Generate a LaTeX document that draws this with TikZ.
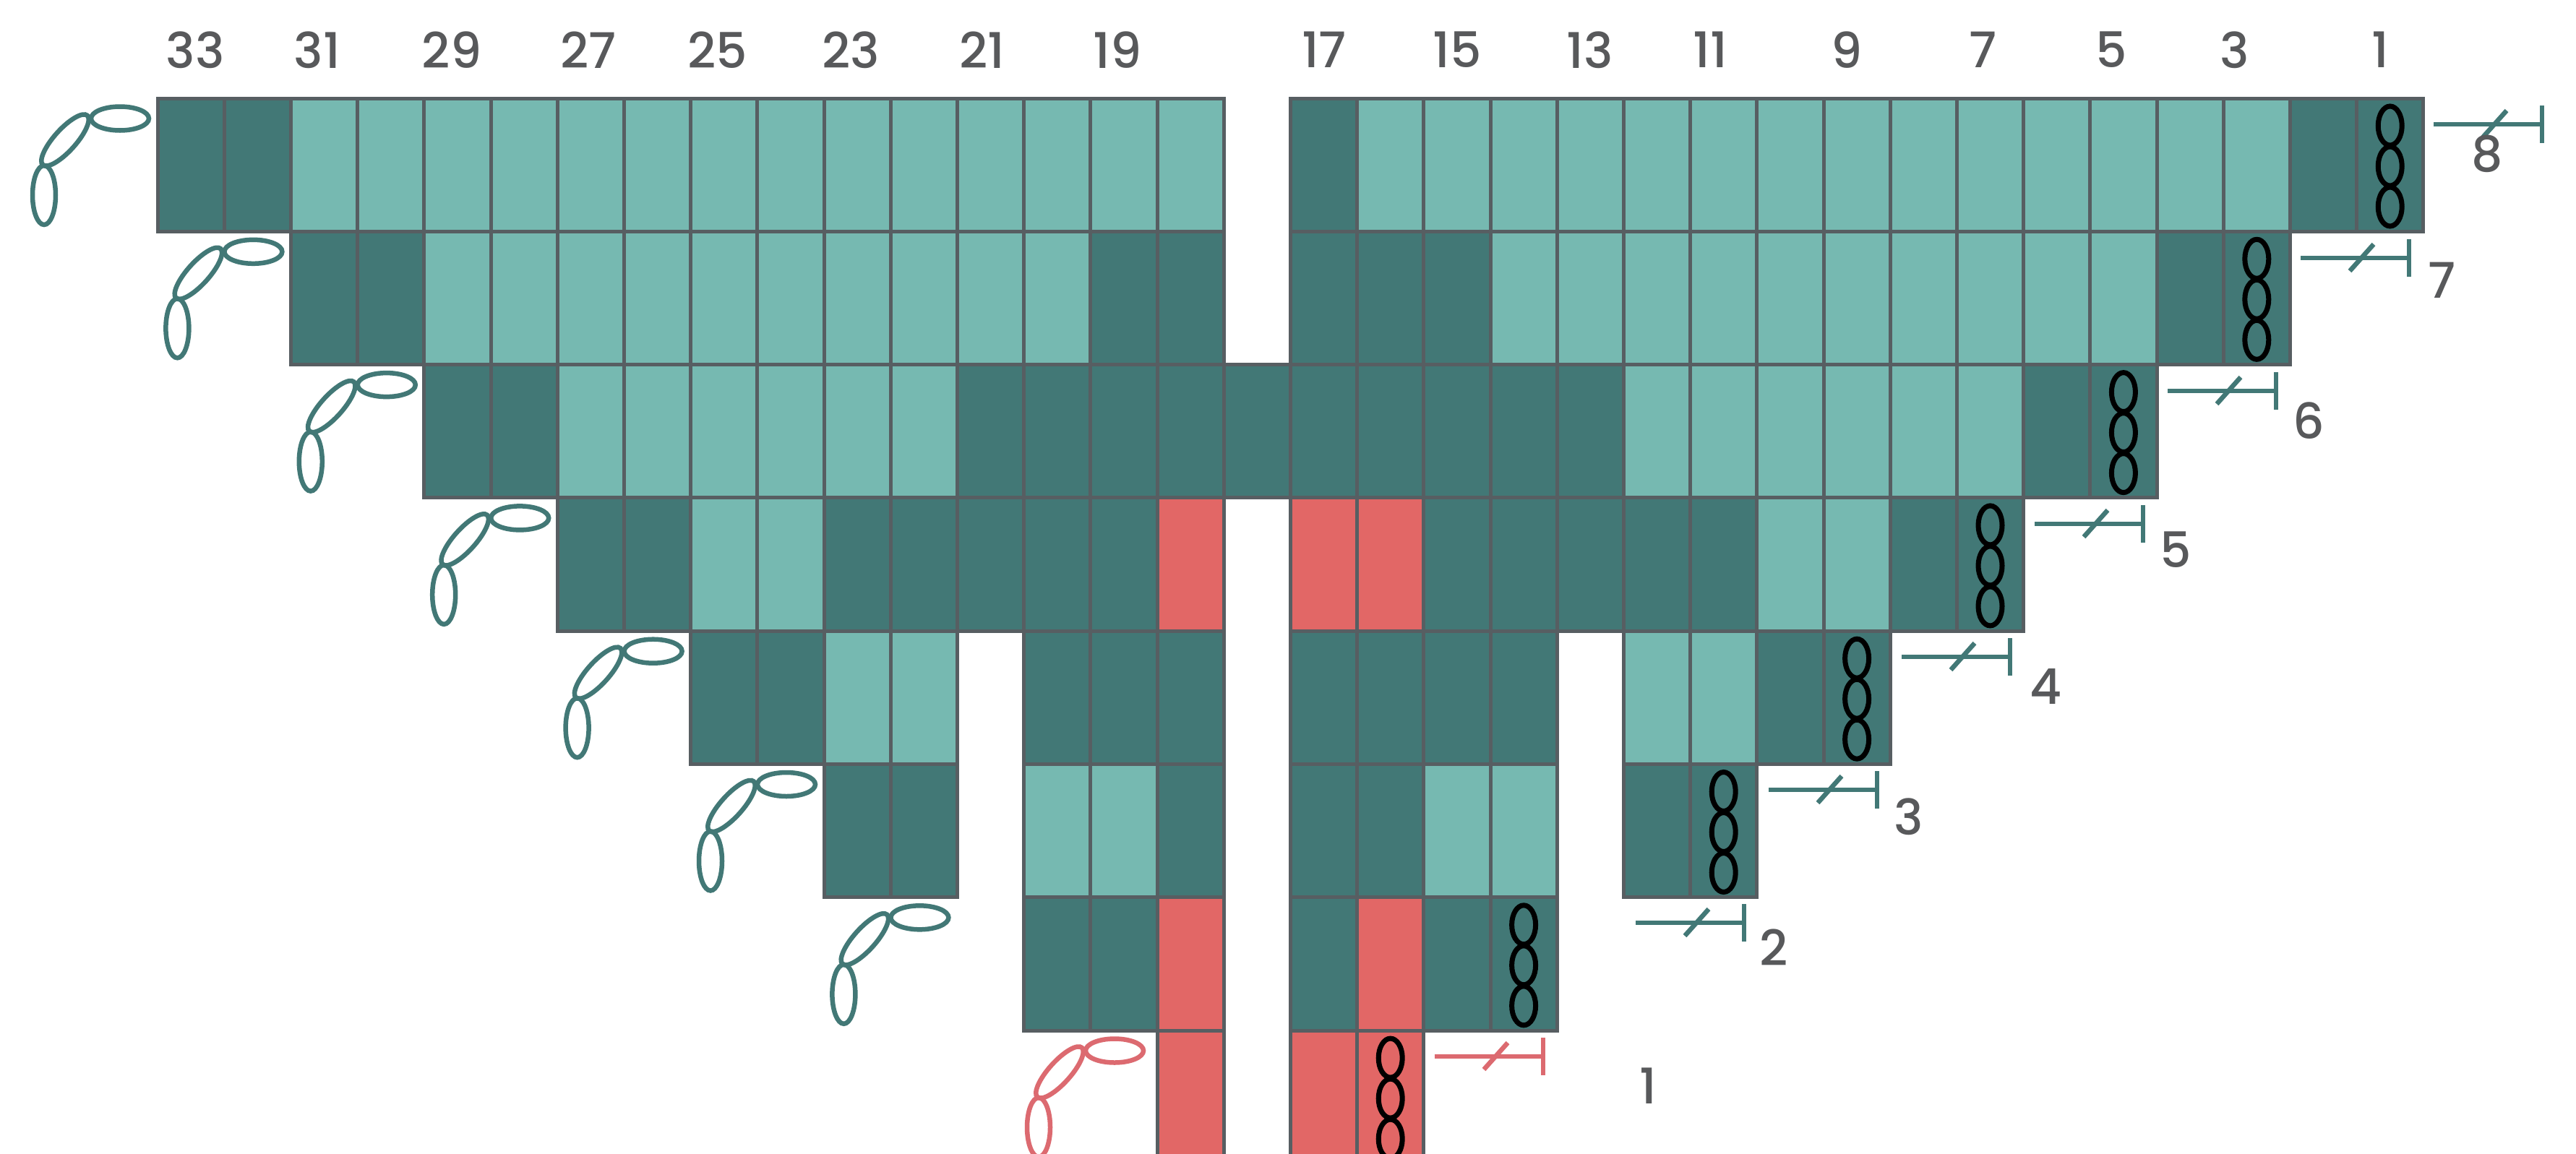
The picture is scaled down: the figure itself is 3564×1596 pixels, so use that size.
\documentclass[tikz,border=0pt]{standalone}
\usepackage{fontspec}
\setmainfont{Poppins Medium}
\definecolor{darkteal}{HTML}{427876}
\definecolor{lightteal}{HTML}{76B9B1}
\definecolor{coral}{HTML}{E26766}
\definecolor{gridline}{HTML}{575E62}
\definecolor{numtext}{HTML}{58595B}
\definecolor{redmark}{HTML}{DC6A70}
\tikzset{
  cellbox/.style={draw=gridline,line width=5pt},
  num/.style={text=numtext,font=\fontsize{68}{68}\selectfont,inner sep=0pt},
  blackoval/.style={draw=black,line width=7pt},
  oval/.style={line width=6.5pt},
}
\newcommand{\cellrun}[3]{\foreach \c in {#3}{\fill[#2] ({218+92.2*\c},{136+184.3*#1}) rectangle ++(92.2,184.3);}
  \foreach \c in {#3}{\draw[cellbox] ({218+92.2*\c},{136+184.3*#1}) rectangle ++(92.2,184.3);}}
\newcommand{\blackchain}[2]{\begin{scope}[shift={({218+92.2*#1+46.1},{136+184.3*#2})}]
  \draw[blackoval] (0,38) ellipse (16.5 and 27);
  \draw[blackoval] (0,94) ellipse (16.5 and 27);
  \draw[blackoval] (0,150) ellipse (16.5 and 27);
\end{scope}}
\newcommand{\leftchain}[3]{\begin{scope}[shift={(#1,#2)},#3]
  \draw[oval] (166,164) ellipse (40 and 16.5);
  \draw[oval,rotate around={-42:(90,194)}] (90,194) ellipse (15 and 46);
  \draw[oval] (61,270) ellipse (16 and 41);
\end{scope}}
\newcommand{\footmark}[3]{\begin{scope}[shift={(#1,#2)},#3]
  \draw[oval] (0,0) -- (150,0);
  \draw[oval] (150,-26) -- (150,26);
  \draw[oval] (68,18) -- (101,-19);
\end{scope}}
\begin{document}
\begin{tikzpicture}[x=1pt,y=-1pt]
\useasboundingbox (0,0) rectangle (3564,1596);
\clip (0,0) rectangle (3564,1596);
\fill[white] (0,0) rectangle (3564,1596);
% row 0
\cellrun{0}{darkteal}{0,1,17,32,33}
\cellrun{0}{lightteal}{2,...,15}
\cellrun{0}{lightteal}{18,...,31}
% row 1
\cellrun{1}{lightteal}{4,...,13}
\cellrun{1}{lightteal}{20,...,29}
\cellrun{1}{darkteal}{2,3,14,15,17,18,19,30,31}
% row 2
\cellrun{2}{lightteal}{6,...,11}
\cellrun{2}{lightteal}{22,...,27}
\cellrun{2}{darkteal}{4,5,12,13,14,15,16,17,18,19,20,21,28,29}
% row 3
\cellrun{3}{lightteal}{8,9,24,25}
\cellrun{3}{darkteal}{6,7,10,11,12,13,14,19,20,21,22,23,26,27}
\cellrun{3}{coral}{15,17,18}
% row 4
\cellrun{4}{lightteal}{10,11,22,23}
\cellrun{4}{darkteal}{8,9,13,14,15,17,18,19,20,24,25}
% row 5
\cellrun{5}{lightteal}{13,14,19,20}
\cellrun{5}{darkteal}{10,11,15,17,18,22,23}
% row 6
\cellrun{6}{darkteal}{13,14,17,19,20}
\cellrun{6}{coral}{15,18}
% row 7
\cellrun{7}{coral}{15,17,18}
% black chains
\blackchain{33}{0}
\blackchain{31}{1}
\blackchain{29}{2}
\blackchain{27}{3}
\blackchain{25}{4}
\blackchain{23}{5}
\blackchain{20}{6}
\blackchain{18}{7}
% left chains
\foreach \i in {0,...,6}{\leftchain{184.4*\i}{184.3*\i}{draw=darkteal}}
\leftchain{1376}{1290}{draw=redmark}
% foot marks
\foreach \i/\px/\py in {0/3367/172,1/3183/357,2/2999/541,3/2815/725,4/2631/909,5/2447/1093,6/2263/1277}{\footmark{\px}{\py}{draw=darkteal}}
\footmark{1985}{1462}{draw=redmark}
% top numbers
\foreach \n/\xx in {33/270,31/439,29/625,27/814,25/993,23/1177,21/1359,19/1546,17/1832,15/2016,13/2200,11/2366,9/2555,7/2744,5/2921,3/3092,1/3293}{
  \node[num] (top\n) at (\xx,69) {\n};
}
% row numbers
\node[num] (rn8) at (3441,213) {8};
\node[num] (rn7) at (3378,388) {7};
\node[num] (rn6) at (3194,582) {6};
\node[num] (rn5) at (3010,761) {5};
\node[num] (rn4) at (2830,950) {4};
\node[num] (rn3) at (2641,1130) {3};
\node[num] (rn2) at (2454,1311) {2};
\node[num] (rn1) at (2280,1503) {1};
\end{tikzpicture}
\end{document}
